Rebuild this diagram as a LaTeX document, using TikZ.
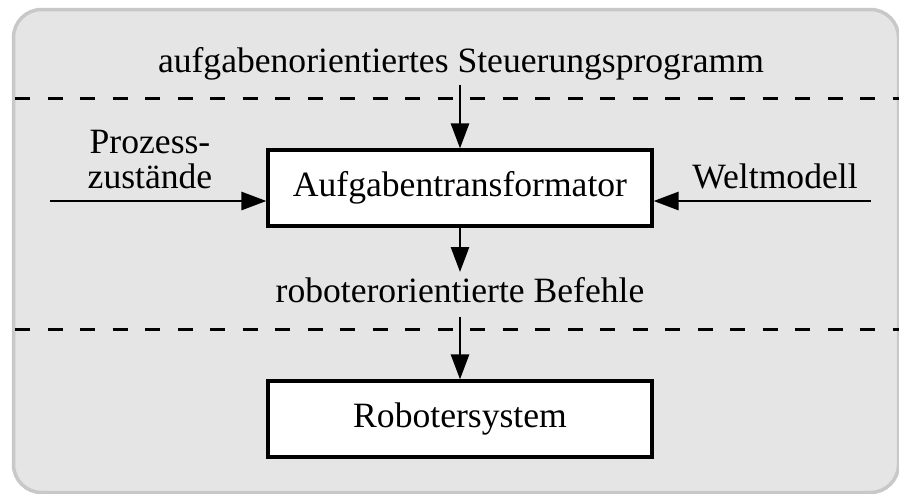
\documentclass[tikz,border=0pt]{standalone}
\usepackage{fontspec}
\setmainfont{Liberation Serif}
\usetikzlibrary{arrows.meta}
\definecolor{bggray}{HTML}{E5E5E5}
\definecolor{bordergray}{HTML}{C8C8C8}
\tikzset{
  lbl/.style={font=\fontsize{35.6}{35}\selectfont, inner sep=0pt, anchor=base},
  blockbox/.style={draw=black, fill=white, line width=3.2pt, minimum width=384pt, minimum height=76pt, inner sep=0pt, font=\fontsize{35.6}{35}\selectfont},
  arr/.style={line width=2.8pt, -{Triangle[length=25pt,width=18pt]}},
  sep/.style={line width=3pt, dash pattern=on 15pt off 17.5pt},
}
\begin{document}
\begin{tikzpicture}[x=1pt,y=-1pt]
\useasboundingbox (0,0) rectangle (899,493);
\draw[fill=bggray, draw=bordergray, line width=3.5pt, rounded corners=28pt] (13.5,9.5) rectangle (898.5,492.5);
% separators
\draw[sep] (15,98) -- (899,98);
\draw[sep] (15,329) -- (899,329);
% labels
\node[lbl] (top) at (461,72) {aufgabenorientiertes Steuerungsprogramm};
\node[lbl] (mid) at (460,302) {roboterorientierte Befehle};
\node[lbl] (welt) at (775,188) {Weltmodell};
\node[font=\fontsize{35.6}{35}\selectfont, inner sep=0pt, align=center, anchor=base] (proz) at (150,188) {Prozess-\\zustände};
% boxes
\node[blockbox] (aufg) at (460,188) {Aufgabentransformator};
\node[blockbox] (robo) at (460,419) {Robotersystem};
% connector ends
\coordinate (topin) at (460,85);
\coordinate (leftin) at (50,201);
\coordinate (rightin) at (871,201);
\coordinate (midout) at (460,272);
\coordinate (midin) at (460,317);
% connectors
\draw[arr] (topin) -- (aufg.north);
\draw[arr] (leftin) -- (leftin -| aufg.west);
\draw[arr] (rightin) -- (rightin -| aufg.east);
\draw[arr] (aufg.south) -- (midout);
\draw[arr] (midin) -- (robo.north);
\end{tikzpicture}
\end{document}
